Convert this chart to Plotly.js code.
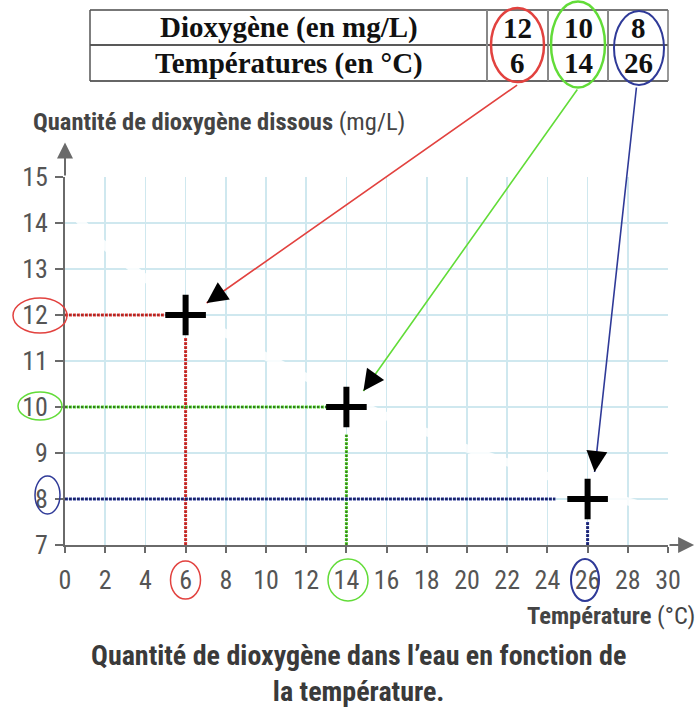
<!DOCTYPE html>
<html>
<head>
<meta charset="utf-8">
<script src="https://cdn.plot.ly/plotly-3.0.1.min.js"></script>
<style>
html,body{margin:0;padding:0;background:#fff;}
#chart{width:698px;height:711px;}
</style>
</head>
<body>
<div id="chart"></div>
<script>
// ---------- data ----------
const temps = [6, 14, 26];            // °C
const o2 = [12, 10, 8];               // mg/L
const rowLabels = ['Dioxygène (en mg/L)', 'Températures (en °C)'];
const xTicks = [0, 2, 4, 6, 8, 10, 12, 14, 16, 18, 20, 22, 24, 26, 28, 30];
const yTicks = [7, 8, 9, 10, 11, 12, 13, 14, 15];
// ends of the dotted reading lines
const hLineEnd = [5, 13.2, 24.4];
const vLineTop = [11.5, 9.4, 7.5];
// faint erased curve visible under the grid
const curveT = [0, 2, 4, 6, 8, 10, 12, 14, 16, 18, 20, 22, 24, 26, 28, 30];
const curveO2 = [14.4, 13.5, 12.8, 12.15, 11.6, 11.1, 10.65, 10.2, 9.8, 9.45, 9.1, 8.8, 8.5, 8.2, 7.95, 7.7];

// ---------- layout helpers ----------
const W = 698, H = 711, L = 65, R = 30, T = 177, B = 166;
const pw = W - L - R, ph = H - T - B;
const PX = x => (x - L) / pw;
const PY = y => (H - B - y) / ph;

const colors = ['#e2423f', '#62dc38', '#2f3a98'];
const darkDots = ['#8a1a14', '#1d3a10', '#101440'];
const SANS = "'Liberation Sans Narrow','Roboto Condensed','DejaVu Sans Condensed','Arial Narrow',sans-serif";
const SERIF = "'Liberation Serif','Times New Roman',serif";

const traces = [];
traces.push({
  x: curveT, y: curveO2, mode: 'lines', type: 'scatter',
  line: {color: 'rgba(255,255,255,0.85)', width: 8, shape: 'spline'},
  hoverinfo: 'skip', showlegend: false
});
for (let i = 0; i < temps.length; i++) {
  traces.push({x: [0, hLineEnd[i]], y: [o2[i], o2[i]], mode: 'lines', type: 'scatter',
    line: {color: colors[i], width: 3, dash: '3px,1px'}, hoverinfo: 'skip', showlegend: false, cliponaxis: false});
  traces.push({x: [0, hLineEnd[i]], y: [o2[i], o2[i]], mode: 'lines', type: 'scatter',
    line: {color: darkDots[i], width: 2, dash: '2px,2px'}, opacity: 0.6, hoverinfo: 'skip', showlegend: false, cliponaxis: false});
  traces.push({x: [temps[i], temps[i]], y: [7, vLineTop[i]], mode: 'lines', type: 'scatter',
    line: {color: colors[i], width: 3, dash: '3px,1px'}, hoverinfo: 'skip', showlegend: false, cliponaxis: false});
  traces.push({x: [temps[i], temps[i]], y: [7, vLineTop[i]], mode: 'lines', type: 'scatter',
    line: {color: darkDots[i], width: 2, dash: '2px,2px'}, opacity: 0.6, hoverinfo: 'skip', showlegend: false, cliponaxis: false});
}
traces.push({
  x: temps, y: o2, mode: 'markers', type: 'scatter',
  marker: {symbol: 'cross-thin', size: 29, color: '#000', line: {color: '#000', width: 6}},
  hoverinfo: 'skip', showlegend: false, cliponaxis: false
});

// ---------- shapes ----------
const shapes = [];
const tbl = {x0: 90, x1: 668, y0: 10, ym: 45, y1: 81, cols: [487, 548, 608]};
function lineShape(x0, y0, x1, y1, color, width) {
  shapes.push({type: 'line', xref: 'paper', yref: 'paper',
    x0: PX(x0), y0: PY(y0), x1: PX(x1), y1: PY(y1), line: {color: color, width: width}});
}
lineShape(tbl.x0, tbl.y0, tbl.x1, tbl.y0, '#777', 2);
lineShape(tbl.x0, tbl.ym, tbl.x1, tbl.ym, '#222', 1.5);
lineShape(tbl.x0, tbl.y1, tbl.x1, tbl.y1, '#333', 1.5);
lineShape(tbl.x0, tbl.y0, tbl.x0, tbl.y1, '#555', 1.5);
lineShape(tbl.x1, tbl.y0, tbl.x1, tbl.y1, '#777', 1.5);
tbl.cols.forEach(c => lineShape(c, tbl.y0, c, tbl.y1, '#888', 2));

function ellipse(cx, cy, rx, ry, color, width) {
  shapes.push({type: 'circle', xref: 'paper', yref: 'paper',
    x0: PX(cx - rx), x1: PX(cx + rx), y0: PY(cy + ry), y1: PY(cy - ry),
    line: {color: color, width: width}, fillcolor: 'rgba(0,0,0,0)'});
}
ellipse(517.5, 45, 26.5, 37, colors[0], 2.5);
ellipse(578, 44.5, 27, 43, colors[1], 2.5);
ellipse(639, 48, 25, 37, colors[2], 2);
ellipse(40, 315.5, 27, 17.5, colors[0], 1.5);
ellipse(40, 406, 22, 14, colors[1], 1.5);
ellipse(47.5, 495, 12.5, 19, colors[2], 1.5);
ellipse(185.5, 580, 15, 19, colors[0], 1.5);
ellipse(348, 580, 20, 21, colors[1], 1.5);
ellipse(585, 580, 14, 21, colors[2], 2);

// ---------- annotations ----------
const ann = [];
function label(xp, yp, text, font, xa) {
  ann.push({xref: 'paper', yref: 'paper', x: PX(xp), y: PY(yp), text: text, showarrow: false,
    xanchor: xa || 'center', yanchor: 'middle', font: font});
}
const tFont = {family: SERIF, size: 29, color: '#111'};
const cellCx = [517.5, 578, 638];
label(289, 28, '<b>' + rowLabels[0] + '</b>', tFont);
label(289, 63, '<b>' + rowLabels[1] + '</b>', tFont);
for (let i = 0; i < temps.length; i++) {
  label(cellCx[i], 28, '<b>' + o2[i] + '</b>', tFont);
  label(cellCx[i], 63, '<b>' + temps[i] + '</b>', tFont);
}
// arrows from the table to the points
const tipShift = [[21, 12], [17, 16], [7, 27]];
const tail = [[312, -219], [215, -303], [42, -386]];
for (let i = 0; i < temps.length; i++) {
  ann.push({x: temps[i], y: o2[i], xref: 'x', yref: 'y', text: '', showarrow: true,
    xshift: tipShift[i][0], yshift: tipShift[i][1], ax: tail[i][0], ay: tail[i][1],
    arrowhead: 0, arrowwidth: 1.6, arrowcolor: colors[i]});
  const len = Math.hypot(tail[i][0], tail[i][1]);
  ann.push({x: temps[i], y: o2[i], xref: 'x', yref: 'y', text: '', showarrow: true,
    xshift: tipShift[i][0], yshift: tipShift[i][1],
    ax: tail[i][0] / len * 20, ay: tail[i][1] / len * 20,
    arrowhead: 2, arrowsize: 2.1, arrowwidth: 2, arrowcolor: '#000'});
}
// axis extension arrows
ann.push({x: 0, y: 15.75, xref: 'x', yref: 'y', axref: 'x', ayref: 'y', ax: 0, ay: 15,
  text: '', showarrow: true, arrowhead: 2, arrowsize: 1.6, arrowwidth: 2, arrowcolor: '#6a6a6a'});
ann.push({x: 31.3, y: 7, xref: 'x', yref: 'y', axref: 'x', ayref: 'y', ax: 30, ay: 7,
  text: '', showarrow: true, arrowhead: 2, arrowsize: 1.6, arrowwidth: 2, arrowcolor: '#6a6a6a'});
// axis titles
label(31, 121, '<b>Quantité de dioxygène dissous</b> (mg/L)', {family: SANS, size: 24.5, color: '#444'}, 'left');
label(697, 615, '<b>Température</b> (°C)', {family: SANS, size: 24.5, color: '#444'}, 'right');
// caption
ann.push({xref: 'paper', yref: 'paper', x: PX(358), y: PY(673), xanchor: 'center', yanchor: 'middle',
  text: '<b>Quantité de dioxygène dans l’eau en fonction de<br>la température.</b>', showarrow: false,
  align: 'center', font: {family: SANS, size: 28, color: '#3a3a3a'}});

const axisCommon = {
  showline: true, linecolor: '#6a6a6a', linewidth: 2,
  showgrid: true, gridcolor: '#cfe8ef', gridwidth: 1.5,
  zeroline: false, ticks: 'outside', tickcolor: '#6a6a6a', tickwidth: 2,
  tickfont: {family: SANS, size: 26, color: '#555'}, fixedrange: true
};

const layout = {
  width: W, height: H,
  margin: {l: L, r: R, t: T, b: B, pad: 0},
  paper_bgcolor: '#fff', plot_bgcolor: '#fff',
  showlegend: false,
  xaxis: Object.assign({}, axisCommon, {range: [0, 30], tickmode: 'array', tickvals: xTicks,
    ticktext: xTicks.map(String), ticklen: 6, ticklabelstandoff: 5}),
  yaxis: Object.assign({}, axisCommon, {range: [7, 15], tickmode: 'array', tickvals: yTicks,
    ticktext: yTicks.map(String), ticklen: 8, ticklabelstandoff: 2}),
  shapes: shapes,
  annotations: ann
};

Plotly.newPlot('chart', traces, layout, {displayModeBar: false, staticPlot: true});
</script>
</body>
</html>
